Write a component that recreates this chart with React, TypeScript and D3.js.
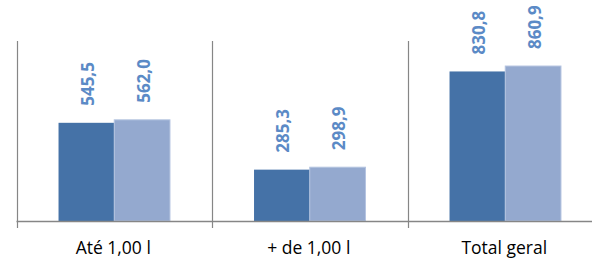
import { useEffect, useRef } from 'react';
import * as d3 from 'd3';

const categories = ['Até 1,00 l', '+ de 1,00 l', 'Total geral'];
const series = ['s1', 's2'];
const valuesS1 = [545.5, 285.3, 830.8];
const valuesS2 = [562.0, 298.9, 860.9];
const yMax = 1000;

const fmt = (v: number) => v.toFixed(1).replace('.', ',');

const App = () => {
  const svgRef = useRef<SVGSVGElement>(null);

  useEffect(() => {
    const svg = d3.select(svgRef.current);
    svg.selectAll('*').remove();

    const width = 592;
    const plotLeft = 16.5;
    const plotTop = 41;
    const baseline = 221;

    const x0 = d3.scaleBand<string>()
      .domain(categories)
      .range([plotLeft, plotLeft + 195.5 * 3]);
    const bw = x0.bandwidth();
    const gw = bw * 0.57;
    const x1 = d3.scaleBand<string>()
      .domain(series)
      .range([(bw - gw) / 2, (bw + gw) / 2]);

    const y = d3.scaleLinear().domain([0, yMax]).range([baseline, plotTop]);

    const colors = ['#4572a7', '#94a9cf'];
    const data = categories.map((c, i) => ({ cat: c, vals: [valuesS1[i], valuesS2[i]] }));

    const g = svg.append('g');

    // bars
    data.forEach(d => {
      d.vals.forEach((v, j) => {
        g.append('rect')
          .attr('x', x0(d.cat)! + x1(series[j])!)
          .attr('y', y(v))
          .attr('width', x1.bandwidth())
          .attr('height', baseline - y(v))
          .attr('fill', colors[j])
          .attr('stroke', j === 1 ? '#b4c4e0' : 'none')
          .attr('stroke-width', j === 1 ? 1 : 0);

        // value labels
        const cx = x0(d.cat)! + x1(series[j])! + x1.bandwidth() / 2;
        const ly = y(v) - 17;
        g.append('text')
          .attr('transform', `translate(${cx + 7.5},${ly}) rotate(-90)`)
          .attr('text-anchor', 'start')
          .style('font-family', '"Open Sans", sans-serif')
          .style('font-weight', 'bold')
          .style('font-size', '17px')
          .style('fill', '#5b8ac6')
          .text(fmt(v));
      });
    });

    // axis lines and separators
    const axisColor = '#868686';
    g.append('line')
      .attr('x1', plotLeft).attr('x2', width)
      .attr('y1', baseline + 0.5).attr('y2', baseline + 0.5)
      .attr('stroke', axisColor).attr('stroke-width', 1.5);

    const seps = [plotLeft, ...categories.slice(1).map(c => x0(c)!)];
    seps.forEach(sx => {
      g.append('line')
        .attr('x1', Math.round(sx) + 0.5).attr('x2', Math.round(sx) + 0.5)
        .attr('y1', plotTop).attr('y2', baseline + 7)
        .attr('stroke', axisColor).attr('stroke-width', 1.2);
    });

    // category labels
    categories.forEach(c => {
      g.append('text')
        .attr('x', x0(c)! + bw / 2 - 1)
        .attr('y', 254)
        .attr('text-anchor', 'middle')
        .style('font-family', '"Open Sans", sans-serif')
        .style('font-size', '17.5px')
        .style('fill', '#000')
        .text(c);
    });
  }, []);

  return (
    <svg
      ref={svgRef}
      width={592}
      height={259}
      style={{ position: 'absolute', left: 0, top: 0, background: '#fff' }}
    />
  );
};

export default App;
